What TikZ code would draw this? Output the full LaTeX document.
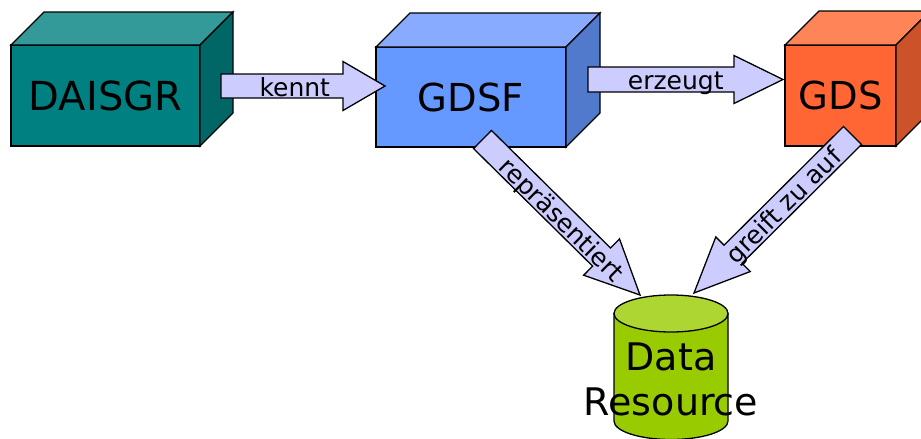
\documentclass[tikz,border=0pt]{standalone}
\usepackage{fontspec}
\setmainfont{DejaVu Sans}
\usetikzlibrary{calc}

\definecolor{tealfront}{HTML}{008080}
\definecolor{tealtop}{HTML}{339999}
\definecolor{tealside}{HTML}{006666}
\definecolor{bluefront}{HTML}{6699FF}
\definecolor{bluetop}{HTML}{88AAFF}
\definecolor{blueside}{HTML}{527ACC}
\definecolor{orangefront}{HTML}{FF6633}
\definecolor{orangetop}{HTML}{FF8559}
\definecolor{orangeside}{HTML}{CC5229}
\definecolor{cylbody}{HTML}{99CC00}
\definecolor{cyltop}{HTML}{ADD633}
\definecolor{arrowfill}{HTML}{CCCCFF}

\tikzset{
  boxfront/.style={draw, rectangle, outer sep=0pt, inner sep=0pt,
    font=\fontsize{38.5}{46}\selectfont},
  arrowlabel/.style={font=\fontsize{25}{30}\selectfont, inner sep=0pt,
    text height=20pt, text depth=0pt},
  blockfill/.style={draw, fill=arrowfill},
}

% top and side faces of a box drawn behind a front-face node
% #1 node, #2 depth, #3 top colour, #4 side colour
\newcommand\cubefaces[4]{%
  \filldraw[fill=#3] (#1.north west) -- ++(#2,-#2)
    -- ($(#1.north east)+(#2,-#2)$) -- (#1.north east) -- cycle;
  \filldraw[fill=#4] (#1.north east) -- ++(#2,-#2)
    -- ($(#1.south east)+(#2,-#2)$) -- (#1.south east) -- cycle;
}

% broad block arrow between two named points
% #1 from, #2 to, #3 shaft half width, #4 head half width,
% #5 head length, #6 label position, #7 label
\newcommand\blockarrow[7]{%
  \coordinate (ba-h) at ($(#2)!#5!(#1)$);
  \filldraw[blockfill] ($(#1)!#3!90:(#2)$) -- ($(ba-h)!#3!-90:(#1)$)
    -- ($(ba-h)!#4!-90:(#1)$) -- (#2) -- ($(ba-h)!#4!90:(#1)$)
    -- ($(ba-h)!#3!90:(#1)$) -- ($(#1)!#3!-90:(#2)$) -- cycle;
  \path (#1) -- (#2) node[pos=#6, sloped, arrowlabel] {#7};
}

\begin{document}
\begin{tikzpicture}[x=1pt, y=-1pt, line width=1.3pt, line join=miter]
\useasboundingbox (0,0) rectangle (921,439);

% boxes
\node[boxfront, fill=tealfront, minimum width=189pt, minimum height=101pt]
  (daisgr) at (105.5,95.5) {\fontsize{40}{48}\selectfont DAISGR};
\cubefaces{daisgr}{33}{tealtop}{tealside}

\node[boxfront, fill=bluefront, minimum width=190pt, minimum height=100pt]
  (gdsf) at (471,97) {GDSF};
\cubefaces{gdsf}{34}{bluetop}{blueside}

\node[boxfront, fill=orangefront, minimum width=111pt, minimum height=101pt]
  (gds) at (840.5,95.5) {GDS};
\cubefaces{gds}{34}{orangetop}{orangeside}

% data store cylinder
\coordinate (dbtop) at (671,313.5);
\filldraw[fill=cylbody] (614,313.5) -- (614,421)
  arc[start angle=180, end angle=360, x radius=57pt, y radius=18.5pt]
  -- (728,313.5) -- cycle;
\filldraw[fill=cyltop] (dbtop) ellipse [x radius=57pt, y radius=18.5pt];
\node[align=center, anchor=base, inner sep=0pt,
  font=\fontsize{38}{45}\selectfont] (data) at (671,415) {Data\\Resource};

% connectors
\coordinate (kennt-s) at (221,86);
\coordinate (kennt-e) at (385,86);
\coordinate (erz-s) at (588,79.5);
\coordinate (erz-e) at (783,79.5);
\coordinate (rep-s) at (482.5,139.5);
\coordinate (rep-e) at (640,295);
\coordinate (gza-s) at (852.5,135.5);
\coordinate (gza-e) at (694,293);

\blockarrow{kennt-s}{kennt-e}{12pt}{24.5pt}{42pt}{0.45}{kennt}
\blockarrow{erz-s}{erz-e}{12.5pt}{24pt}{49pt}{0.45}{erzeugt}
\blockarrow{rep-s}{rep-e}{12.75pt}{25.5pt}{54pt}{0.51}{repräsentiert}
\blockarrow{gza-s}{gza-e}{12.75pt}{24.4pt}{55pt}{0.44}{greift zu auf}
\end{tikzpicture}
\end{document}
